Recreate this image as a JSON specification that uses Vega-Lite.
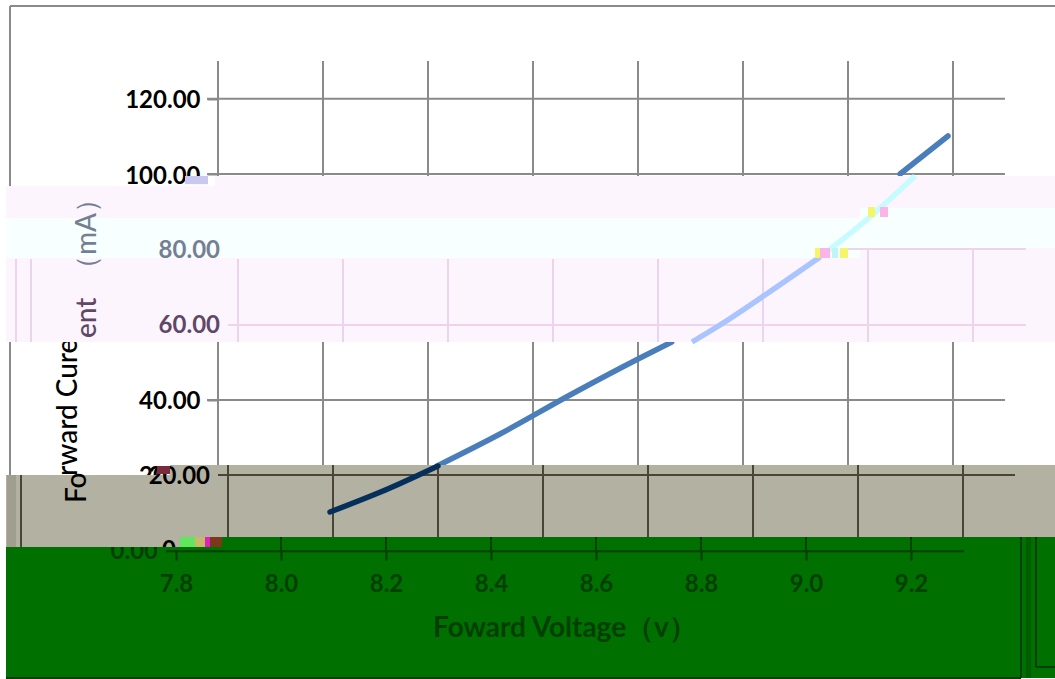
{"$schema":"https://vega.github.io/schema/vega-lite/v6.json","width":1055,"height":679,"autosize":{"type":"none"},"padding":0,"background":"#ffffff","view":{"stroke":null},
"config":{"text":{"font":"Lato"},"axis":{"labelFont":"Lato"}},
"datasets":{
"rects":[
{"g":"pink","x":7.4762,"x2":9.4743,"y":96.81,"y2":55.32},
{"g":"pink","x":7.8743,"x2":9.4743,"y":99.47,"y2":96.81},
{"g":"cyan","x":7.4762,"x2":9.1029,"y":88.30,"y2":77.66},
{"g":"cyan","x":9.1029,"x2":9.4743,"y":90.96,"y2":80.32},
{"g":"green","x":7.4762,"x2":9.4743,"y":3.46,"y2":-34.04},
{"g":"strip","x":9.4190,"x2":9.4286,"y":3.46,"y2":-34.04},
{"g":"gray","x":7.4762,"x2":7.8076,"y":19.95,"y2":0.80},
{"g":"gray","x":7.7886,"x2":9.4743,"y":22.61,"y2":3.46},
{"g":"graystrip","x":7.4781,"x2":7.4952,"y":19.95,"y2":0.80},
{"g":"patch","x":7.7638,"x2":7.8076,"y":0.80,"y2":-4}
],
"noise":[
{"n":"yellow","x":9.0171,"x2":9.0267,"y":80.32,"y2":77.66},
{"n":"pink","x":9.0267,"x2":9.0457,"y":80.32,"y2":77.66},
{"n":"cyan","x":9.0495,"x2":9.0610,"y":80.32,"y2":77.66},
{"n":"yellow","x":9.0648,"x2":9.0800,"y":80.32,"y2":77.66},
{"n":"yellow","x":9.1181,"x2":9.1314,"y":91.22,"y2":88.56},
{"n":"pink","x":9.1410,"x2":9.1562,"y":91.22,"y2":88.56},
{"n":"lime","x":7.8076,"x2":7.8362,"y":3.46,"y2":0.80},
{"n":"tan","x":7.8362,"x2":7.8552,"y":3.46,"y2":0.80},
{"n":"magenta","x":7.8552,"x2":7.8648,"y":3.46,"y2":0.80},
{"n":"dark","x":7.8648,"x2":7.8876,"y":3.46,"y2":0.80},
{"n":"lavender","x":7.8171,"x2":7.8610,"y":99.47,"y2":97.3},
{"n":"maroon","x":7.7638,"x2":7.7886,"y":22.34,"y2":20.2}
],
"rules":[
{"g":"white","x":7.4838,"x2":9.4743,"y":144.68,"y2":144.68},
{"g":"white","x":7.4838,"x2":7.4838,"y":144.68,"y2":96.81},
{"g":"white","x":7.4838,"x2":7.4838,"y":55.32,"y2":19.95},
{"g":"white","x":7.8591,"x2":9.3790,"y":120,"y2":120},
{"g":"white","x":7.8591,"x2":9.3790,"y":100,"y2":100},
{"g":"white","x":7.8591,"x2":9.3790,"y":39.89,"y2":39.89},
{"g":"white","x":7.88,"x2":7.88,"y":130.05,"y2":22.61},
{"g":"white","x":8.08,"x2":8.08,"y":130.05,"y2":22.61},
{"g":"white","x":8.28,"x2":8.28,"y":130.05,"y2":22.61},
{"g":"white","x":8.48,"x2":8.48,"y":130.05,"y2":22.61},
{"g":"white","x":8.68,"x2":8.68,"y":130.05,"y2":22.61},
{"g":"white","x":8.88,"x2":8.88,"y":130.05,"y2":22.61},
{"g":"white","x":9.08,"x2":9.08,"y":130.05,"y2":22.61},
{"g":"white","x":9.28,"x2":9.28,"y":130.05,"y2":22.61},
{"g":"pink","x":7.4952,"x2":7.4952,"y":77.39,"y2":55.32},
{"g":"pink","x":7.5238,"x2":7.5238,"y":77.39,"y2":55.32},
{"g":"pink","x":7.9181,"x2":7.9181,"y":77.39,"y2":55.32},
{"g":"pink","x":8.1181,"x2":8.1181,"y":77.39,"y2":55.32},
{"g":"pink","x":8.3181,"x2":8.3181,"y":77.39,"y2":55.32},
{"g":"pink","x":8.5181,"x2":8.5181,"y":77.39,"y2":55.32},
{"g":"pink","x":8.7181,"x2":8.7181,"y":77.39,"y2":55.32},
{"g":"pink","x":8.9181,"x2":8.9181,"y":77.39,"y2":55.32},
{"g":"pink","x":9.1181,"x2":9.1181,"y":80.05,"y2":55.32},
{"g":"pink","x":9.3181,"x2":9.3181,"y":80.05,"y2":55.32},
{"g":"pink","x":9.0781,"x2":9.4190,"y":80.05,"y2":80.05},
{"g":"pink","x":7.8990,"x2":9.4190,"y":59.84,"y2":59.84},
{"g":"gray","x":7.5048,"x2":7.5048,"y":19.95,"y2":0.80},
{"g":"gray","x":7.8990,"x2":7.8990,"y":22.61,"y2":3.46},
{"g":"gray","x":8.0990,"x2":8.0990,"y":22.61,"y2":3.46},
{"g":"gray","x":8.2990,"x2":8.2990,"y":22.61,"y2":3.46},
{"g":"gray","x":8.4990,"x2":8.4990,"y":22.61,"y2":3.46},
{"g":"gray","x":8.6990,"x2":8.6990,"y":22.61,"y2":3.46},
{"g":"gray","x":8.8990,"x2":8.8990,"y":22.61,"y2":3.46},
{"g":"gray","x":9.0990,"x2":9.0990,"y":22.61,"y2":3.46},
{"g":"gray","x":9.2990,"x2":9.2990,"y":22.61,"y2":3.46},
{"g":"gray","x":7.88,"x2":9.3981,"y":19.95,"y2":19.95},
{"g":"green","x":7.7810,"x2":9.3010,"y":-0.3,"y2":-0.3},
{"g":"green","x":8.0,"x2":8.0,"y":3.46,"y2":0},
{"g":"green","x":8.2,"x2":8.2,"y":3.46,"y2":0},
{"g":"green","x":8.4,"x2":8.4,"y":3.46,"y2":0},
{"g":"green","x":8.6,"x2":8.6,"y":3.46,"y2":0},
{"g":"green","x":8.8,"x2":8.8,"y":3.46,"y2":0},
{"g":"green","x":9.0,"x2":9.0,"y":3.46,"y2":0},
{"g":"green","x":9.2,"x2":9.2,"y":3.46,"y2":0},
{"g":"green","x":7.4762,"x2":9.4095,"y":-34.04,"y2":-34.04},
{"g":"green","x":9.4095,"x2":9.4095,"y":3.46,"y2":-34.04},
{"g":"green","x":9.4381,"x2":9.4381,"y":3.46,"y2":-31.12},
{"g":"green","x":9.4381,"x2":9.4743,"y":-31.12,"y2":-31.12}
],
"curve":[
{"s":"top","x":9.1791,"y":100},{"s":"top","x":9.2705,"y":110.1},
{"s":"mid","x":8.2972,"y":22.34},{"s":"mid","x":8.4171,"y":30.85},{"s":"mid","x":8.5505,"y":41.22},{"s":"mid","x":8.6838,"y":51.06},{"s":"mid","x":8.7443,"y":55.32},
{"s":"pink","x":8.7829,"y":55.32},{"s":"pink","x":8.8362,"y":59.84},{"s":"pink","x":8.9219,"y":67.82},{"s":"pink","x":9.0267,"y":77.93},
{"s":"cyan","x":9.0267,"y":77.93},{"s":"cyan","x":9.1219,"y":88.56},{"s":"cyan","x":9.2076,"y":99.47},
{"s":"gray","x":8.0933,"y":10.11},{"s":"gray","x":8.2076,"y":16.49},{"s":"gray","x":8.2990,"y":22.34}
],
"labels":[
{"g":"p1","t":"80.00","x":7.8838,"y":79.5},
{"g":"p2","t":"60.00","x":7.8838,"y":59.5},
{"g":"k","t":"20.00","x":7.8648,"y":19.5},
{"g":"k","t":"0","x":7.8,"y":-0.3},
{"g":"z","t":"0.00","x":7.7657,"y":-0.5}
],
"titles":[
{"g":"white","t":"rward Cure","x":7.6114,"y":19.68},
{"g":"gray","t":"Fo","x":7.6286,"y":12.5},
{"g":"p2","t":"ent","x":7.6476,"y":56.38},
{"g":"p1","t":"（mA）","x":7.6476,"y":71}
],
"xtitle":[{"t":"Foward Voltage（v）","x":8.5409,"y":-21.01}]
},
"encoding":{
"x":{"field":"x","type":"quantitative","title":null,"scale":{"domain":[7.46476,9.47429],"nice":false,"zero":false},"axis":{"values":[7.8,8.0,8.2,8.4,8.6,8.8,9.0,9.2],"format":".1f","orient":"bottom","offset":-129,"domain":false,"grid":false,"tickSize":10,"tickWidth":2,"tickColor":"#003f00","labelColor":"#003f00","labelFontSize":24,"labelFontWeight":"bold","labelPadding":12,"labelOverlap":false,"labelBound":false,"labelFlush":false,"title":null,"zindex":1}},
"y":{"field":"y","type":"quantitative","title":null,"scale":{"domain":[-34.309,146.277],"nice":false,"zero":false},"axis":{"values":[120,100,40,20],"format":".2f","orient":"left","offset":-218,"domain":false,"grid":false,"tickSize":11,"tickWidth":2,"tickColor":"#8a8a8a","labelColor":"#000000","labelFontSize":24,"labelFontWeight":"bold","labelPadding":7,"labelOffset":2,"labelOverlap":false,"labelBound":false,"title":null,"zindex":0}}
},
"layer":[
{"data":{"name":"rules"},"transform":[{"filter":"datum.g==='white'"}],"mark":{"type":"rule","color":"#8a8a8a","strokeWidth":2},"encoding":{"x2":{"field":"x2"},"y2":{"field":"y2"}}},
{"data":{"name":"curve"},"transform":[{"filter":"datum.s==='top'||datum.s==='mid'"}],"mark":{"type":"line","color":"#4a7ebb","strokeWidth":5.5,"strokeCap":"round","interpolate":"monotone"},"encoding":{"detail":{"field":"s"}}},
{"data":{"name":"titles"},"transform":[{"filter":"datum.g==='white'"}],"mark":{"type":"text","angle":270,"align":"left","baseline":"alphabetic","fontSize":28,"fontWeight":500,"color":"#000000"},"encoding":{"text":{"field":"t"}}},
{"data":{"name":"rects"},"transform":[{"filter":"datum.g==='pink'"}],"mark":{"type":"rect","color":"#fdf5fd"},"encoding":{"x2":{"field":"x2"},"y2":{"field":"y2"}}},
{"data":{"name":"rects"},"transform":[{"filter":"datum.g==='cyan'"}],"mark":{"type":"rect","color":"#f8ffff"},"encoding":{"x2":{"field":"x2"},"y2":{"field":"y2"}}},
{"data":{"name":"rules"},"transform":[{"filter":"datum.g==='pink'"}],"mark":{"type":"rule","color":"#ecd4ec","strokeWidth":2},"encoding":{"x2":{"field":"x2"},"y2":{"field":"y2"}}},
{"data":{"name":"labels"},"transform":[{"filter":"datum.g==='p1'"}],"mark":{"type":"text","align":"right","baseline":"middle","fontSize":24,"fontWeight":"bold","color":"#757f94"},"encoding":{"text":{"field":"t"}}},
{"data":{"name":"labels"},"transform":[{"filter":"datum.g==='p2'"}],"mark":{"type":"text","align":"right","baseline":"middle","fontSize":24,"fontWeight":"bold","color":"#5f4768"},"encoding":{"text":{"field":"t"}}},
{"data":{"name":"titles"},"transform":[{"filter":"datum.g==='p1'"}],"mark":{"type":"text","angle":270,"align":"left","baseline":"alphabetic","fontSize":28,"fontWeight":500,"color":"#757f94"},"encoding":{"text":{"field":"t"}}},
{"data":{"name":"titles"},"transform":[{"filter":"datum.g==='p2'"}],"mark":{"type":"text","angle":270,"align":"left","baseline":"alphabetic","fontSize":28,"fontWeight":500,"color":"#5f4768"},"encoding":{"text":{"field":"t"}}},
{"data":{"name":"curve"},"transform":[{"filter":"datum.s==='pink'"}],"mark":{"type":"line","color":"#aac4ff","strokeWidth":5.5,"interpolate":"monotone"},"encoding":{}},
{"data":{"name":"curve"},"transform":[{"filter":"datum.s==='cyan'"}],"mark":{"type":"line","color":"#c6fbff","strokeWidth":5.5,"interpolate":"monotone"},"encoding":{}},
{"data":{"name":"rects"},"transform":[{"filter":"datum.g==='green'"}],"mark":{"type":"rect","color":"#007000"},"encoding":{"x2":{"field":"x2"},"y2":{"field":"y2"}}},
{"data":{"name":"rects"},"transform":[{"filter":"datum.g==='strip'"}],"mark":{"type":"rect","color":"#005e00"},"encoding":{"x2":{"field":"x2"},"y2":{"field":"y2"}}},
{"data":{"name":"labels"},"transform":[{"filter":"datum.g==='z'"}],"mark":{"type":"text","align":"right","baseline":"middle","fontSize":24,"fontWeight":"bold","color":"#003f00"},"encoding":{"text":{"field":"t"}}},
{"data":{"name":"rects"},"transform":[{"filter":"datum.g==='gray'"}],"mark":{"type":"rect","color":"#b3b1a1"},"encoding":{"x2":{"field":"x2"},"y2":{"field":"y2"}}},
{"data":{"name":"rects"},"transform":[{"filter":"datum.g==='graystrip'"}],"mark":{"type":"rect","color":"#a09e8e"},"encoding":{"x2":{"field":"x2"},"y2":{"field":"y2"}}},
{"data":{"name":"rules"},"transform":[{"filter":"datum.g==='gray'"}],"mark":{"type":"rule","color":"#4a4536","strokeWidth":2},"encoding":{"x2":{"field":"x2"},"y2":{"field":"y2"}}},
{"data":{"name":"curve"},"transform":[{"filter":"datum.s==='gray'"}],"mark":{"type":"line","color":"#06305c","strokeWidth":5.5,"strokeCap":"round","interpolate":"monotone"},"encoding":{}},
{"data":{"name":"labels"},"transform":[{"filter":"datum.g==='k'"}],"mark":{"type":"text","align":"right","baseline":"middle","fontSize":24,"fontWeight":"bold","color":"#000000"},"encoding":{"text":{"field":"t"}}},
{"data":{"name":"titles"},"transform":[{"filter":"datum.g==='gray'"}],"mark":{"type":"text","angle":270,"align":"left","baseline":"alphabetic","fontSize":28,"fontWeight":500,"color":"#000000"},"encoding":{"text":{"field":"t"}}},
{"data":{"name":"rects"},"transform":[{"filter":"datum.g==='patch'"}],"mark":{"type":"rect","color":"#007000"},"encoding":{"x2":{"field":"x2"},"y2":{"field":"y2"}}},
{"data":{"name":"rules"},"transform":[{"filter":"datum.g==='green'"}],"mark":{"type":"rule","color":"#003f00","strokeWidth":2},"encoding":{"x2":{"field":"x2"},"y2":{"field":"y2"}}},
{"data":{"name":"xtitle"},"mark":{"type":"text","align":"center","baseline":"middle","fontSize":28,"fontWeight":"bold","color":"#003f00"},"encoding":{"text":{"field":"t"}}},
{"data":{"name":"noise"},"mark":{"type":"rect"},"encoding":{"x2":{"field":"x2"},"y2":{"field":"y2"},"color":{"field":"n","type":"nominal","legend":null,"scale":{"domain":["yellow","pink","cyan","lime","tan","magenta","dark","lavender","maroon"],"range":["#f5f56a","#fbb3e8","#bff5f5","#5fe85f","#c9b86a","#e020c0","#7a3a1a","#c8c8f0","#7a2a3a"]}}}}
]
}
